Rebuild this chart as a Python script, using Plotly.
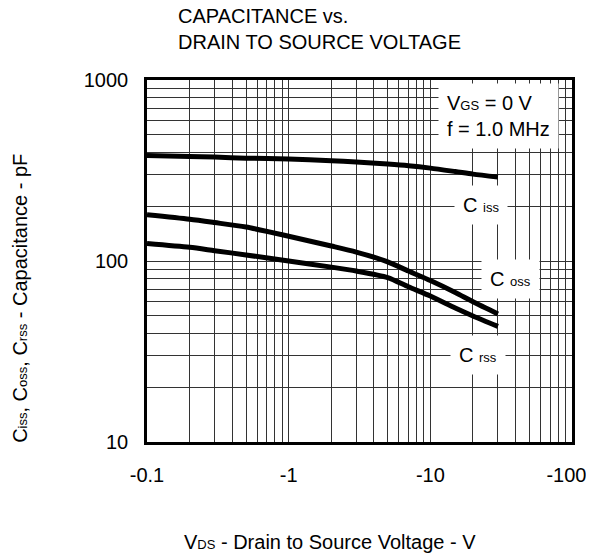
import plotly.graph_objects as go

# ---- data ----
vds = [-0.1, -0.2, -0.3, -0.5, -1, -2, -3, -5, -7, -10, -15, -20, -30]
ciss = [383, 378, 375, 370, 366, 358, 352, 343, 336, 326, 312, 302, 291]
coss = [180, 170, 163, 154, 137, 121, 112, 99, 88, 78, 67, 59.5, 51]
crss = [125, 119, 114, 108, 100, 92.5, 88, 81, 72, 64, 55, 49.7, 43.5]

x_major = [0.1, 1, 10, 100]
x_major_text = ["-0.1", "-1", "-10", "-100\u00a0\u00a0"]
y_major = [10, 100, 1000]
y_major_text = ["10", "100", "1000"]

FONT = "Liberation Sans, Arial, Helvetica, sans-serif"
SM = 13

def grid_vals(majors):
    vals = []
    for i, m in enumerate(majors):
        vals.append(m)
        if i < len(majors) - 1:
            for k in range(2, 10):
                vals.append(m * k)
    return vals

def grid_text(majors, labels):
    out = []
    for i, m in enumerate(majors):
        out.append(labels[i])
        if i < len(majors) - 1:
            out.extend([""] * 8)
    return out

xv = [abs(v) for v in vds]

fig = go.Figure()
for name, ys in [("Ciss", ciss), ("Coss", coss), ("Crss", crss)]:
    fig.add_trace(go.Scatter(x=xv, y=ys, mode="lines", name=name,
                             line=dict(color="black", width=5, shape="spline", smoothing=0.7),
                             showlegend=False))

axis_common = dict(type="log", showline=True, mirror=True, linecolor="black", linewidth=2.5,
                   showgrid=True, gridcolor="#333333", gridwidth=1, ticks="", zeroline=False,
                   automargin=False, ticklabeloverflow="allow",
                   tickfont=dict(family=FONT, size=20, color="black"))

fig.update_xaxes(range=[-1, 2], tickmode="array", tickvals=grid_vals(x_major),
                 ticktext=grid_text(x_major, x_major_text), ticklabelstandoff=13, **axis_common)
fig.update_yaxes(range=[1, 3], tickmode="array", tickvals=grid_vals(y_major),
                 ticktext=grid_text(y_major, y_major_text), ticklabelstandoff=12, **axis_common)

def small(s):
    return f"<span style='font-size:{SM}px'>{s}</span>"

ann = []
ann.append(dict(text="CAPACITANCE vs.<br>DRAIN TO SOURCE VOLTAGE", xref="paper", yref="paper",
                x=0.0675, y=1.141, xanchor="left", yanchor="middle", align="left", showarrow=False,
                font=dict(family=FONT, size=20, color="black")))
ann.append(dict(text="V" + small("DS") + " - Drain to Source Voltage - V", xref="paper", yref="paper",
                x=0.43, y=-0.276, xanchor="center", yanchor="middle", showarrow=False,
                font=dict(family=FONT, size=20, color="black")))
ann.append(dict(text="C" + small("iss") + ", C" + small("oss") + ", C" + small("rss") + " - Capacitance - pF",
                xref="paper", yref="paper", x=-0.299, y=0.398, xanchor="center", yanchor="middle",
                textangle=-90, showarrow=False, font=dict(family=FONT, size=20, color="black")))
ann.append(dict(text="V" + small("GS") + " = 0 V<br>f = 1.0 MHz", xref="paper", yref="paper",
                x=0.826, y=0.9, xanchor="center", yanchor="middle", align="left", showarrow=False,
                bgcolor="white", borderpad=8, font=dict(family=FONT, size=20, color="black")))
for txt, xp, yp in [("C " + small("iss"), 0.786, 0.655), ("C " + small("oss"), 0.856, 0.450),
                    ("C " + small("rss"), 0.779, 0.240)]:
    ann.append(dict(text=txt, xref="paper", yref="paper", x=xp, y=yp, xanchor="center", yanchor="middle",
                    showarrow=False, bgcolor="white", borderpad=8,
                    font=dict(family=FONT, size=20, color="black")))

# page body has an 8px margin: shrink the figure and left/top margins to keep the plot area in place
fig.update_layout(width=586, height=550, margin=dict(l=139, r=22, t=72, b=116),
                  paper_bgcolor="white", plot_bgcolor="white", annotations=ann,
                  font=dict(family=FONT, color="black"))

fig.write_html("out.html")
